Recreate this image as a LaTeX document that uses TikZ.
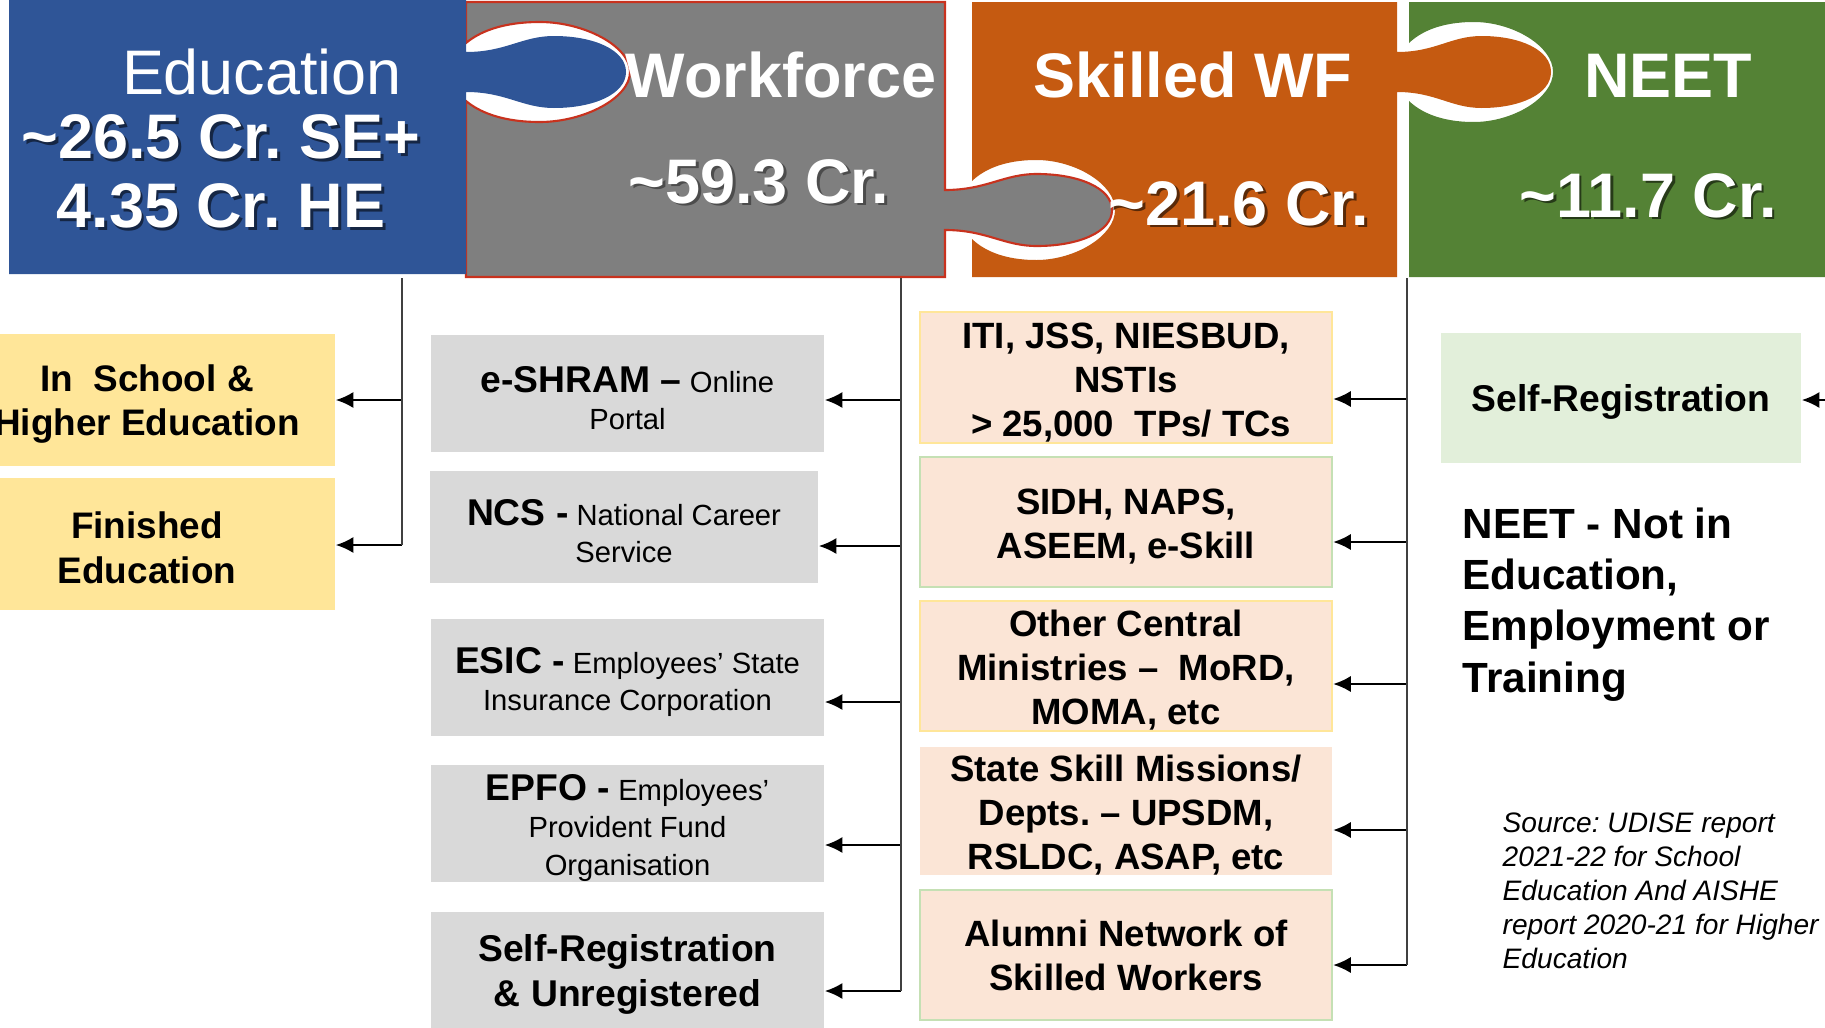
\documentclass[tikz,border=0pt]{standalone}
\usepackage{fontspec}
\setmainfont{Liberation Sans}
\usetikzlibrary{arrows.meta}
\frenchspacing

\definecolor{edublue}{RGB}{47,85,151}
\definecolor{wfgray}{RGB}{127,127,127}
\definecolor{wfred}{RGB}{200,50,30}
\definecolor{swforange}{RGB}{197,90,17}
\definecolor{neetgreen}{RGB}{84,130,53}
\definecolor{yellowbox}{RGB}{255,230,153}
\definecolor{graybox}{RGB}{217,217,217}
\definecolor{peach}{RGB}{251,229,214}
\definecolor{peachgreen}{RGB}{197,224,180}
\definecolor{lightgreen}{RGB}{226,239,218}

% puzzle tab sticking out of an edge at x=#1, centred on y=#2, #3 long
\newcommand{\knobcurve}[3]{%
  -- (#1,#2-20) .. controls (#1+0.25*#3,#2-20) and (#1+0.35*#3,#2-36) .. (#1+0.55*#3,#2-36)
  .. controls (#1+0.8*#3,#2-36) and (#1+#3,#2-22) .. (#1+#3,#2)
  .. controls (#1+#3,#2+22) and (#1+0.8*#3,#2+36) .. (#1+0.55*#3,#2+36)
  .. controls (#1+0.35*#3,#2+36) and (#1+0.25*#3,#2+20) .. (#1,#2+20)}
% matching hole cut into an edge, walked from bottom to top
\newcommand{\socketcurve}[3]{%
  -- (#1,#2+29) .. controls (#1+0.08*#3,#2+40) and (#1+0.22*#3,#2+50) .. (#1+0.45*#3,#2+50)
  .. controls (#1+0.72*#3,#2+50) and (#1+#3,#2+26) .. (#1+#3,#2)
  .. controls (#1+#3,#2-26) and (#1+0.72*#3,#2-50) .. (#1+0.45*#3,#2-50)
  .. controls (#1+0.22*#3,#2-50) and (#1+0.08*#3,#2-40) .. (#1,#2-29)}
\newcommand{\shtext}[2]{\leavevmode\rlap{\kern0.8pt\raisebox{-0.8pt}{\color{#1}#2}}#2}
\newcommand{\hd}[1]{{\fontsize{10.6}{10.5}\selectfont\bfseries #1}}
\newcommand{\lift}{\rule{0pt}{9.9pt}}% taller first line, pushes the text down a little

\begin{document}
\begin{tikzpicture}[x=0.01cm, y=-0.01cm,
    toptext/.style={text=white, inner sep=0, font=\fontsize{17.9}{19.6}\selectfont\bfseries},
    edubox/.style={fill=yellowbox, minimum width=3.76cm, minimum height=1.32cm,
        align=center, inner sep=0, font=\fontsize{10.5}{12.7}\selectfont\bfseries},
    wfbox/.style={fill=graybox, minimum width=3.93cm, minimum height=1.17cm,
        align=center, inner sep=0, font=\fontsize{8.3}{10.6}\selectfont},
    swfbox/.style={fill=peach, line width=0.6pt, minimum width=4.12cm, minimum height=1.30cm,
        align=center, inner sep=0, font=\fontsize{10.4}{12.5}\selectfont\bfseries},
    trunk/.style={draw=black!75, line width=0.45pt},
    link/.style={->, >={Latex[length=5pt,width=4.6pt]}, line width=0.6pt}]
\useasboundingbox (0,0) rectangle (1825,1027);

% the four puzzle pieces
\fill[neetgreen] (1409,2) -- (1830,2) -- (1830,277) -- (1409,277)
    \socketcurve{1409}{72}{144} -- cycle;
\fill[swforange] (972,2) -- (1397,2) \knobcurve{1397}{72}{154} -- (1397,277) -- (972,277)
    \socketcurve{972}{210}{143} -- cycle;
\filldraw[fill=wfgray, draw=wfred, line width=0.6pt] (466,2) -- (945,2)
    \knobcurve{945}{210}{167} -- (945,277) -- (466,277) \socketcurve{466}{72}{164} -- cycle;
\fill[edublue] (9,0) -- (466,0) \knobcurve{466}{72}{160} -- (466,274) -- (9,274) -- cycle;

\node[toptext, font=\fontsize{17.9}{19.6}\selectfont, anchor=base] (edutitle) at (262,94) {Education};
\node[toptext, align=center] (edunum) at (221,173)
    {\shtext{edublue!45!black}{\textasciitilde26.5 Cr. SE+}\\\shtext{edublue!45!black}{4.35 Cr. HE}};
\node[toptext, anchor=base] (wftitle) at (781,97) {Workforce};
\node[toptext, anchor=base] (wfnum) at (759,203) {\shtext{black!70}{\textasciitilde59.3 Cr.}};
\node[toptext, anchor=base] (swftitle) at (1193,97) {Skilled WF};
\node[toptext, anchor=base] (swfnum) at (1239,225) {\shtext{swforange!45!black}{\textasciitilde21.6 Cr.}};
\node[toptext, anchor=base] (neettitle) at (1668,97) {NEET};
\node[toptext, anchor=base] (neetnum) at (1648,217) {\shtext{neetgreen!45!black}{\textasciitilde11.7 Cr.}};

% education
\node[edubox] (inschool) at (147,400) {\lift In\ \ School \&\\Higher Education};
\node[edubox] (finished) at (147,544) {\lift Finished\\Education};

% workforce
\node[wfbox] (eshram) at (627.5,393.5) {\lift\hd{e-SHRAM –} Online\\Portal};
\node[wfbox, minimum width=3.88cm, minimum height=1.12cm] (ncs) at (624,527)
    {\lift\hd{NCS -} National Career\\Service};
\node[wfbox] (esic) at (627.5,677.5) {\lift\hd{ESIC -} Employees' State\\Insurance Corporation};
\node[wfbox] (epfo) at (627.5,823.5) {\lift\hd{EPFO -} Employees'\\Provident Fund\\Organisation};
\node[wfbox, minimum height=1.18cm, font=\fontsize{10.6}{12.8}\selectfont\bfseries] (selfunreg)
    at (627.5,971) {\lift Self-Registration\\\& Unregistered};

% skilled workforce
\node[swfbox, draw=yellowbox, minimum height=1.31cm] (iti) at (1126,377.5)
    {\lift ITI, JSS, NIESBUD,\\NSTIs\\\mbox{}\ > 25,000\ \ TPs/ TCs};
\node[swfbox, draw=peachgreen] (sidh) at (1126,522) {\lift SIDH, NAPS,\\ASEEM, e-Skill};
\node[swfbox, draw=yellowbox] (ministries) at (1126,666)
    {\lift Other Central\\Ministries –\ \ MoRD,\\MOMA, etc};
\node[swfbox, minimum height=1.28cm] (statemission) at (1126,811)
    {\lift State Skill Missions/\\Depts. – UPSDM,\\RSLDC, ASAP, etc};
\node[swfbox, draw=peachgreen] (alumni) at (1126,955)
    {Alumni Network of\\Skilled Workers};

% neet
\node[fill=lightgreen, minimum width=3.60cm, minimum height=1.30cm, inner sep=0,
    font=\fontsize{10.6}{12.8}\selectfont\bfseries] (selfreg) at (1621,398) {\lift Self-Registration};
\node[anchor=north west, inner sep=0, align=left, font=\fontsize{12}{14.6}\selectfont\bfseries]
    (neetdesc) at (1462,507) {NEET - Not in\\Education,\\Employment or\\Training};
\node[anchor=north west, inner sep=0, align=left, font=\fontsize{8}{9.7}\selectfont\itshape]
    (source) at (1502,812) {Source: UDISE report\\2021-22 for School\\Education And AISHE\\report 2020-21 for Higher\\Education};

% connectors
\coordinate (edubase) at (402,278);
\coordinate (wfbase) at (901,278);
\coordinate (swfbase) at (1407,278);
\foreach \nd/\y [count=\i] in {inschool/400,finished/545}{
    \coordinate (edu\i) at (402,\y);
    \draw[link] (edu\i) -- (edu\i -| \nd.east);
}
\foreach \nd/\y [count=\i] in {eshram/400,ncs/546,esic/702,epfo/845,selfunreg/991}{
    \coordinate (wf\i) at (901,\y);
    \draw[link] (wf\i) -- (wf\i -| \nd.east);
}
\foreach \nd/\y [count=\i] in {iti/399,sidh/542,ministries/684,statemission/830,alumni/965}{
    \coordinate (swf\i) at (1407,\y);
    \draw[link] (swf\i) -- (swf\i -| \nd.east);
}
\draw[trunk] (edubase) -- (edu2);
\draw[trunk] (wfbase) -- (wf5);
\draw[trunk] (swfbase) -- (swf5);
\coordinate (neetin) at (1830,400);
\draw[link] (neetin) -- (neetin -| selfreg.east);
\end{tikzpicture}
\end{document}
